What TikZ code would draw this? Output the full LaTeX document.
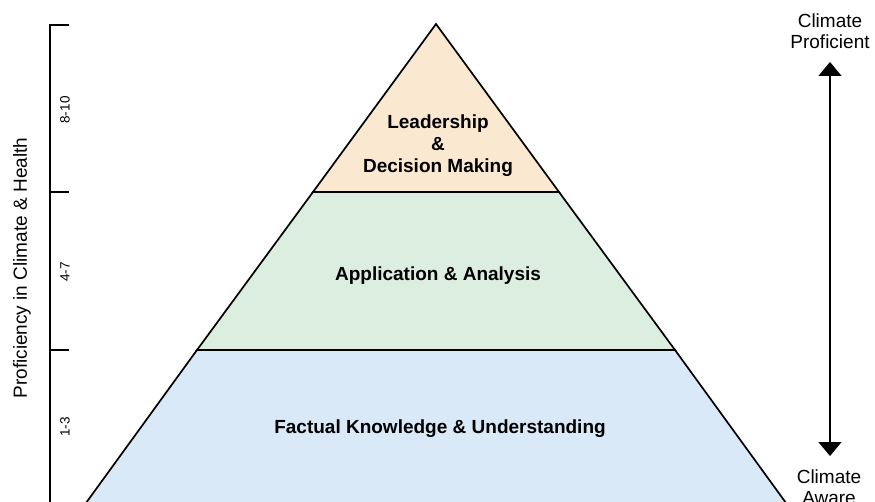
\documentclass[tikz,border=0pt]{standalone}
\usepackage{fontspec}
\setmainfont{Liberation Sans}
\usetikzlibrary{arrows.meta}
\definecolor{topfill}{HTML}{FBE8D0}
\definecolor{midfill}{HTML}{DCEEDF}
\definecolor{lowfill}{HTML}{DAE9F8}
\tikzset{
  layer/.style={line width=1.7pt, line join=miter},
  layertext/.style={font=\fontsize{19}{22}\selectfont\bfseries, align=center},
  sidetext/.style={font=\fontsize{19}{21}\selectfont, align=center},
  ticktext/.style={font=\fontsize{13.5}{15}\selectfont, rotate=90}
}
\begin{document}
\begin{tikzpicture}[x=1pt,y=-1pt]
  \useasboundingbox (0,0) rectangle (875,502);
  \clip (0,0) rectangle (875,502);

  % Pyramide
  \coordinate (apex) at (436,24);
  \coordinate (L1) at (313,192);
  \coordinate (R1) at (559,192);
  \coordinate (L2) at (197,350);
  \coordinate (R2) at (675,350);
  \coordinate (L3) at (70,525);
  \coordinate (R3) at (802,525);
  \draw[layer, fill=lowfill] (L2) -- (R2) -- (R3) -- (L3) -- cycle;
  \draw[layer, fill=midfill] (L1) -- (R1) -- (R2) -- (L2) -- cycle;
  \draw[layer, fill=topfill] (apex) -- (R1) -- (L1) -- cycle;

  % Stufen
  \node[layertext] (lead) at (438,146) {Leadership\\\&\\Decision Making};
  \node[layertext] (appl) at (438,276) {Application \& Analysis};
  \node[layertext] (fact) at (440,429) {Factual Knowledge \& Understanding};

  % Achse links
  \draw[line width=1.3pt] (69,25) -- (50,25) -- (50,510);
  \draw[line width=1.3pt] (50,192) -- (69,192);
  \draw[line width=1.3pt] (50,350) -- (69,350);
  \node[ticktext] (top) at (65,110) {8-10};
  \node[ticktext] (mid) at (65,272) {4-7};
  \node[ticktext] (low) at (65,427) {1-3};
  \node[sidetext, rotate=90] (axis) at (22,268) {Proficiency in Climate \& Health};

  % Pfeil rechts
  \node[sidetext] (prof) at (830,31) {Climate\\Proficient};
  \node[sidetext] (aware) at (829,487) {Climate\\Aware};
  \coordinate (up) at (830,62);
  \coordinate (down) at (830,456);
  \draw[line width=1.3pt, {Triangle[width=23pt,length=14pt]}-{Triangle[width=23pt,length=14pt]}]
    (up) -- (down);
\end{tikzpicture}
\end{document}
